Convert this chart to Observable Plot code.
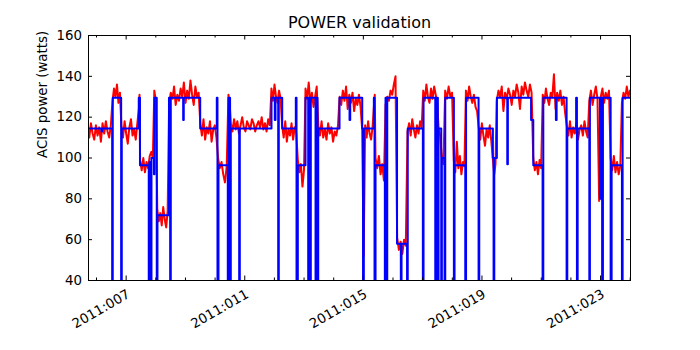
<!DOCTYPE html>
<html><head><meta charset="utf-8">
<script src="https://cdn.jsdelivr.net/npm/d3@7"></script>
<script src="https://cdn.jsdelivr.net/npm/@observablehq/plot@0.6"></script>
<style>
html,body{margin:0;padding:0;background:#fff;}
#chart svg{display:block;}
</style>
</head><body><div id="chart"></div>
<script>
const title = "POWER validation";
const yLabel = "ACIS power (watts)";
const xDomain = [5.73, 24.01];
const yDomain = [40, 160];
const yTicks = [40, 60, 80, 100, 120, 140, 160];
const xMajorTicks = [7, 11, 15, 19, 23];
const xMinorTicks = [6, 8, 9, 10, 12, 13, 14, 16, 17, 18, 20, 21, 22, 24];
const xTickLabels = ["2011:007", "2011:011", "2011:015", "2011:019", "2011:023"];

// Model (blue step line): day of year, watts
const modelTimes = [5.70, 6.167, 6.19, 6.528, 6.548, 6.831, 6.852, 7.425, 7.466, 7.762, 7.785, 7.83, 7.854, 7.938, 7.955, 8.032, 8.056, 8.444, 8.484, 8.505, 8.923, 8.943, 9.497, 10.057, 10.08, 10.114, 10.428, 10.452, 10.505, 10.529, 10.812, 10.833, 11.902, 12.013, 12.037, 12.128, 12.148, 12.263, 12.722, 12.746, 12.79, 13.049, 13.14, 13.167, 13.208, 13.228, 13.387, 13.414, 13.454, 13.478, 14.196, 14.534, 14.557, 14.962, 14.989, 15.016, 15.354, 15.377, 15.411, 15.725, 15.748, 15.782, 15.806, 16.136, 16.264, 16.288, 16.474, 16.497, 17.007, 17.03, 17.425, 17.445, 17.513, 17.536, 17.627, 17.648, 17.739, 17.762, 18.053, 18.076, 18.437, 18.464, 18.886, 18.909, 19.368, 19.392, 19.416, 19.503, 19.854, 19.874, 20.657, 20.731, 21.045, 21.069, 21.494, 21.518, 21.855, 21.878, 22.176, 22.203, 22.227, 22.621, 22.641, 22.979, 23.002, 23.053, 23.08, 23.34, 23.373, 23.721, 23.744, 24.05];
const modelValues = [114.5, 113, 114.5, 0, 129.5, 0, 114.5, 129.5, 96.5, 0, 98, 0, 100, 92, 129.5, 0, 72, 129.5, 0, 129.5, 118.6, 129.5, 114.5, 129.5, 0, 96.5, 0, 129.5, 0, 114.5, 0, 114.5, 129.5, 118.6, 129.5, 0, 129.5, 114.5, 129.5, 0, 96.5, 129.5, 0, 129.5, 0, 129.5, 0, 129.5, 0, 114.5, 129.5, 118.6, 129.5, 114.5, 0, 114.5, 129.5, 0, 96.5, 0, 129.5, 0, 129.5, 58, 0, 58, 0, 114.5, 0, 129.5, 0, 129.5, 0, 114.5, 0, 100, 0, 129.5, 0, 96.5, 0, 129.5, 0, 114.5, 100, 0, 100, 129.5, 97, 129.5, 118.6, 96.5, 0, 129.5, 118.6, 129.5, 0, 114.5, 129.5, 0, 114.5, 0, 129.5, 80, 129.5, 0, 129.5, 0, 96.5, 0, 129.5, 129.5];

// Telemetry (red line): segment start days and the readings within each segment
const dataEnd = 24.05;
const dataSegStarts = [5.70, 6.54, 6.84, 7.43, 7.47, 7.85, 7.95, 8.05, 8.45, 9.50, 10.10, 10.45, 10.53, 11.90, 12.26, 12.79, 13.05, 13.48, 14.20, 14.96, 15.36, 15.41, 15.75, 16.14, 16.49, 17.02, 17.44, 17.54, 17.64, 17.76, 18.05, 18.46, 18.89, 19.37, 19.50, 20.73, 21.05, 21.86, 22.62, 23.34, 23.72];
const dataSegValues = [
  [114,110,117,112,109,116,111,115,108,117,112,118,113,110,116],
  [128,134,130,136,127,132],
  [116,110,118,112,107,115,119,111,114,109,117],
  [124,131],
  [99,94,100,93,98,95,101],
  [103,100],
  [133,128],
  [75,69,73,67,76,70,66,74],
  [127,132,129,135,126,131,128,134,130,137,127,133,129,138,131,126,135,130,132],
  [117,111,119,109,115,112,118,108,114,116,110],
  [100,95,98,92,88,96],
  [131,127],
  [117,113,119,114,118,112,116,120,115,113,118,116,114,119,117,113,116,118,115,120,114,117,113,119,116],
  [134,128,136,130,127,133,129],
  [116,110,118,108,114,111,117,109,115,112],
  [99,93,97,86,94],
  [134,129,137,127,132,125,130,135],
  [116,111,118,110,114,109,117,112,115,108,113,111,116],
  [130,126,133,128,135,124,131,127,132,123,129,126,131,125],
  [114,52,116,110,118,112,109,115],
  [126,131],
  [100,95,101,92,97,89],
  [126,130,128,133,131,136,140],
  [61,55,59,53,60,57],
  [113,117,111,119,114,110,116,112,118,115],
  [133,128,136,130,127,134,129,135],
  [131,127],
  [114,111],
  [101,97],
  [133,129,135,130,132],
  [99,93,108,95,101,92,98,96],
  [133,128,135,130,127,131,125,123],
  [115,109,117,111,106,114,110,116,108],
  [99,92,97],
  [128,133,130,135,123,132,129,134,131,126,133,130,136,132,124,135,131,137,133,130,136,132],
  [100,94,98,92,99,95],
  [131,127,134,129,126,132,130,141,124,132,128,133,126,130,122],
  [116,111,118,110,115,112,117,109,114,116,111,118,113,110],
  [128,133,126,131,135,129,79,130,134,127,132,129,133],
  [100,94,101,93,98,92,96],
  [127,132,129,135,130,133]
];

const modelRows = modelTimes.map((t, i) => ({t, v: modelValues[i]}));
const dataRows = [];
dataSegStarts.forEach((s, i) => {
  const e = i + 1 < dataSegStarts.length ? dataSegStarts[i + 1] : dataEnd;
  const vals = dataSegValues[i];
  vals.forEach((v, k) => dataRows.push({t: s + (e - s) * k / vals.length, v}));
});

const W = 700, H = 350, mL = 88, mR = 70, mT = 35, mB = 70;
const pw = W - mL - mR, ph = H - mT - mB;
const font = "DejaVu Sans, sans-serif";

const chart = Plot.plot({
  width: W, height: H,
  marginLeft: mL, marginRight: mR, marginTop: mT, marginBottom: mB,
  style: {fontFamily: font, fontSize: "13.33px", background: "#fff", color: "#000"},
  x: {domain: xDomain, axis: null},
  y: {domain: yDomain, axis: null},
  marks: [
    Plot.line(dataRows, {x: "t", y: "v", stroke: "#ff0000", strokeWidth: 2, clip: true}),
    Plot.line(modelRows, {x: "t", y: "v", curve: "step-after", stroke: "#0000ff", strokeWidth: 2, clip: true}),
    // inward ticks
    Plot.ruleY(yTicks, {y: d => d, insetRight: pw - 4, stroke: "#000"}),
    Plot.ruleY(yTicks, {y: d => d, insetLeft: pw - 4, stroke: "#000"}),
    Plot.ruleX(xMajorTicks, {x: d => d, insetTop: ph - 4.5, stroke: "#000"}),
    Plot.ruleX(xMajorTicks, {x: d => d, insetBottom: ph - 4.5, stroke: "#000"}),
    Plot.ruleX(xMinorTicks, {x: d => d, insetTop: ph - 2.5, stroke: "#000"}),
    Plot.ruleX(xMinorTicks, {x: d => d, insetBottom: ph - 2.5, stroke: "#000"}),
    Plot.frame({stroke: "#000", strokeWidth: 1}),
    // tick labels
    Plot.text(yTicks, {y: d => d, frameAnchor: "left", text: d => String(d), textAnchor: "end", dx: -6.5, fontSize: 13.33, fill: "#000"}),
    Plot.text(xMajorTicks, {x: d => d, frameAnchor: "bottom", text: (d, i) => xTickLabels[i], rotate: -30, textAnchor: "end", lineAnchor: "top", dx: 0, dy: 8, fontSize: 13.33, fill: "#000"}),
    // titles
    Plot.text([title], {frameAnchor: "top", text: d => d, dy: -19, fontSize: 16, fill: "#000"}),
    Plot.text([yLabel], {frameAnchor: "left", text: d => d, rotate: -90, dx: -46, fontSize: 13.33, fill: "#000"})
  ]
});
document.getElementById("chart").appendChild(chart);
</script>
</body></html>
